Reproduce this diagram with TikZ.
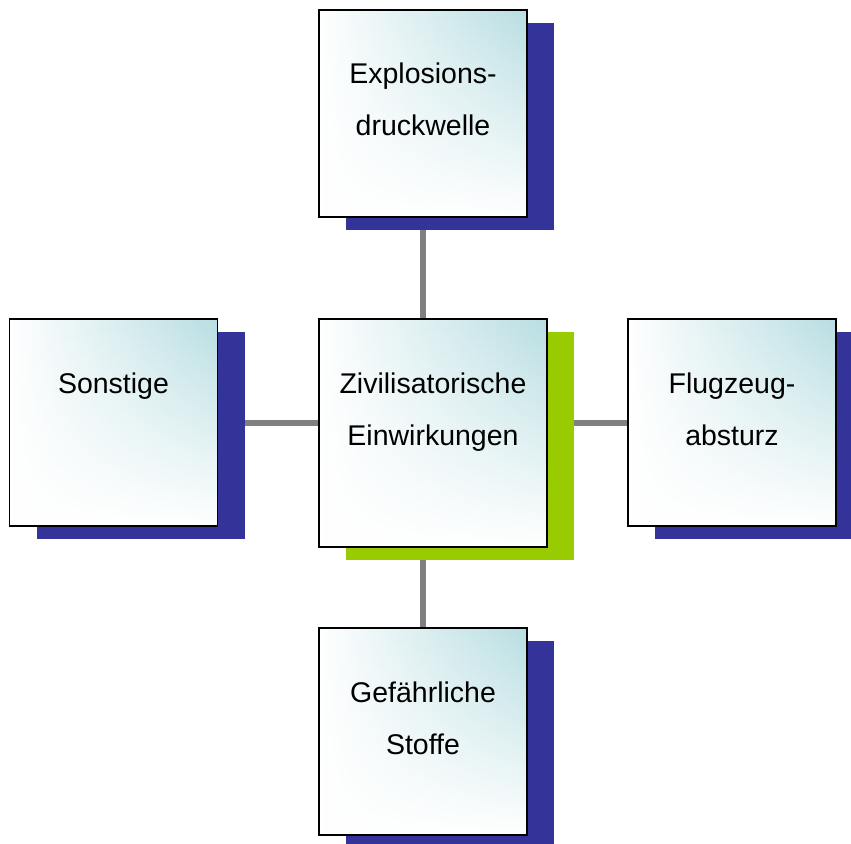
\documentclass[tikz,border=0pt]{standalone}
\usepackage{fontspec}
\setmainfont{Liberation Sans}
\usetikzlibrary{shadows,fadings}
\definecolor{boxcyan}{RGB}{184,222,226}
\definecolor{shblue}{RGB}{51,51,153}
\definecolor{shgreen}{RGB}{153,204,0}
\definecolor{linegray}{RGB}{128,128,128}
\tikzfading[name=fadedown, top color=transparent!0, bottom color=transparent!100]
\pgfdeclarelayer{bglayer}
\pgfsetlayers{bglayer,main}
\newcommand{\mybt}[1]{\parbox[t]{220pt}{\centering\fontsize{28.5}{52}\selectfont #1}}
\tikzset{
  boxbase/.style={draw=black, line width=1.8pt, fill=white, inner sep=0pt,
    path picture={\shade[left color=white, right color=boxcyan, path fading=fadedown] (path picture bounding box.south west) rectangle (path picture bounding box.north east);}},
  outerbox/.style={boxbase, minimum width=208pt, minimum height=207pt,
    drop shadow={shadow xshift=27pt, shadow yshift=-13pt, fill=shblue, opacity=1}},
  centerbox/.style={boxbase, minimum width=228pt, minimum height=228pt,
    drop shadow={shadow xshift=27pt, shadow yshift=-13pt, fill=shgreen, opacity=1}},
  txt/.style={anchor=base, inner sep=0pt},
  conn/.style={draw=linegray, line width=6pt}
}
\begin{document}
\begin{tikzpicture}[x=1pt,y=-1pt]
\useasboundingbox (0,0) rectangle (851,843);
\node[outerbox] (topb) at (423,113.5) {};
\node[outerbox] (leftb) at (113.5,422.5) {};
\node[outerbox] (rightb) at (732,422.5) {};
\node[outerbox] (botb) at (423,731.5) {};
\node[centerbox] (ctrb) at (433,433) {};
\begin{pgfonlayer}{bglayer}
\draw[conn] (topb) -- (botb);
\draw[conn] (leftb) -- (rightb);
\end{pgfonlayer}
\node[txt] (toptxt) at (423,83) {\mybt{Explosions-\\druckwelle}};
\node[txt] (lefttxt) at (113.5,393) {\mybt{Sonstige}};
\node[txt] (ctrtxt) at (433,393) {\mybt{Zivilisatorische\\Einwirkungen}};
\node[txt] (righttxt) at (732,393) {\mybt{Flugzeug-\\absturz}};
\node[txt] (bottxt) at (423,702) {\mybt{Gefährliche\\Stoffe}};
\end{tikzpicture}
\end{document}
